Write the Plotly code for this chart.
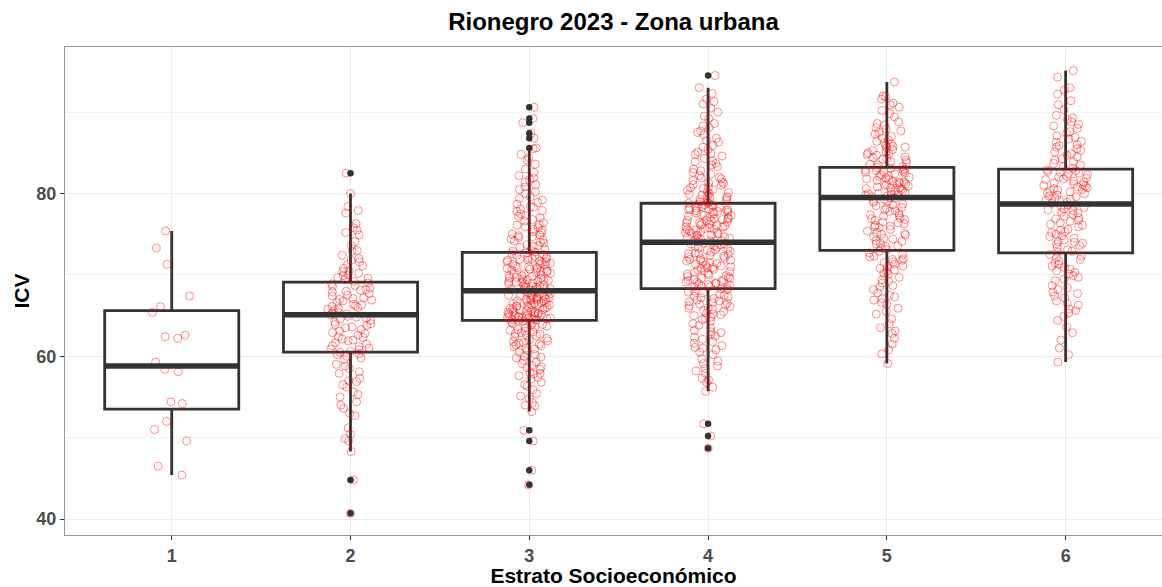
import plotly.graph_objects as go

# ---------------- data ----------------
categories = [1, 2, 3, 4, 5, 6]
tick_labels = ["1", "2", "3", "4", "5", "6"]
y_ticks = [40, 60, 80]

# box statistics
q1 = [53.5, 60.5, 64.4, 68.3, 73.0, 72.7]
median = [58.8, 65.1, 68.05, 74.0, 79.5, 78.7]
q3 = [65.6, 69.1, 72.76, 78.8, 83.2, 83.0]
lower_whisker = [45.4, 48.3, 53.2, 55.7, 59.1, 59.3]
upper_whisker = [75.4, 80.0, 85.5, 93.0, 93.7, 95.1]

icv_1 = [75.4, 73.3, 71.3, 67.4, 66.1, 65.4, 62.6, 62.4, 62.2, 59.3, 58.4, 58.1,
         54.4, 54.2, 52.0, 51.0, 49.6, 46.5, 45.4]

icv_2 = [82.5, 80.0, 78.4, 77.9, 77.6, 76.3, 75.8, 75.5, 75.2, 74.9, 74.1, 73.0,
         72.4, 72.0, 71.6, 71.1, 70.8, 70.5, 70.2, 69.9, 69.6, 69.4, 69.2, 71.3,
         70.0, 73.6, 69.7, 70.4, 72.9, 71.8,
         69.0, 66.3, 68.2, 65.4, 67.7, 66.9, 68.6, 65.8, 67.1, 66.0, 68.9, 65.2,
         67.4, 66.6, 68.0, 65.6, 67.9, 66.2, 68.4, 65.3, 67.0, 66.8, 68.7, 65.9,
         67.5, 66.4, 65.1, 67.2, 68.1, 66.1,
         64.9, 62.3, 63.8, 61.2, 64.4, 62.8, 60.9, 63.3, 61.7, 64.0, 62.1, 60.6,
         63.6, 61.5, 64.7, 62.6, 61.0, 63.1, 60.5, 64.2, 62.4, 61.9, 63.9, 60.8,
         62.9, 64.6, 61.3, 63.5, 62.0, 64.8,
         60.3, 60.0, 59.6, 59.0, 58.5, 57.9, 57.3, 56.9, 56.2, 55.6, 55.0, 54.4,
         53.6, 52.7, 51.2, 50.4, 49.6, 48.3, 44.8, 40.7, 59.8, 58.1, 57.0, 55.3,
         53.0, 60.2, 58.8, 56.5, 54.0, 49.9]

icv_3 = [85.6, 86.8, 87.4, 88.7, 89.2, 90.6,
         85.5, 84.8, 84.1, 83.6, 83.0, 82.6, 84.4, 82.2,
         81.7, 81.1, 80.8, 80.2, 79.6, 79.2, 81.4, 80.0, 81.9, 80.5, 79.4,
         78.7, 78.1, 77.8, 77.2, 76.8, 76.4, 78.4, 77.0, 76.6, 77.9, 77.5, 76.2,
         78.9, 77.3, 76.1, 78.3,
         75.8, 75.3, 74.9, 74.6, 74.2, 73.9, 73.5, 73.2, 72.9, 75.6, 75.0, 74.4,
         73.7, 73.0, 75.9, 74.7, 74.0, 73.4, 72.8, 75.2, 74.3, 73.6, 75.5, 74.8,
         72.6, 70.4, 69.1, 71.8, 68.3, 70.9, 72.2, 69.6, 68.7, 71.3, 70.1, 69.9,
         72.4, 68.2, 71.0, 69.4, 70.7, 68.9, 71.6, 69.2, 72.0, 68.5, 70.3, 71.9,
         69.7, 68.1, 70.6, 71.4, 69.0, 72.7, 68.6, 70.0, 71.2, 69.5, 68.4, 72.1,
         70.8, 69.3, 71.7, 68.8, 70.2, 71.5, 69.8, 72.5, 68.3, 70.5, 71.1, 69.1,
         68.6, 72.3, 70.9, 69.6, 71.8, 68.2, 70.4, 69.9, 71.3, 68.9, 72.0, 70.1,
         69.4, 68.5, 71.6, 70.7, 69.2,
         67.9, 66.2, 65.1, 67.4, 64.6, 66.8, 65.7, 67.1, 64.9, 66.5, 65.3, 67.7,
         64.5, 66.0, 65.9, 67.2, 64.8, 66.6, 65.4, 67.8, 65.0, 66.3, 67.5, 64.7,
         66.9, 65.6, 67.0, 64.4, 66.1, 65.2, 67.6, 64.9, 66.7, 65.8, 67.3, 64.6,
         66.4, 65.5, 68.0, 65.0, 66.2, 67.9, 64.7, 66.6, 65.3, 67.1, 64.5, 66.0,
         65.7, 67.4, 64.8, 66.8, 65.1, 67.7, 65.9, 66.5, 64.6, 67.2, 65.4, 66.3,
         67.0, 65.6, 64.9, 66.9, 65.2,
         50.9, 49.6, 46.0, 44.2,
         64.2, 63.8, 63.3, 62.9, 62.4, 62.0, 61.6, 61.2, 64.0, 63.5, 63.1, 62.6,
         62.2, 61.8, 61.3, 64.3, 63.7, 63.0, 62.7, 61.9, 61.4, 61.0, 63.9, 63.2,
         62.5, 61.7, 64.1, 62.8, 61.5, 63.6,
         60.7, 60.2, 59.8, 59.3, 58.9, 58.4, 58.0, 57.6, 57.2, 60.5, 59.9, 59.1,
         58.6, 57.9, 57.4, 60.9, 60.0, 58.7, 57.8, 59.5,
         56.8, 56.3, 55.9, 55.4, 54.8, 54.3, 53.9, 53.2, 56.5, 55.1, 54.0]

icv_4 = [94.5,
         93.0, 92.3, 91.6, 91.0, 90.5, 90.0, 89.5, 91.3, 89.2,
         88.6, 88.1, 87.7, 87.2, 86.8, 86.3, 85.9, 85.4, 88.3, 87.5, 86.5, 85.7, 85.1,
         84.8, 84.3, 83.9, 83.5, 83.0, 82.6, 82.2, 81.8, 84.6, 84.0, 83.3, 82.8,
         82.0, 81.6, 84.9, 83.7, 82.4, 81.9,
         81.4, 81.0, 80.6, 80.2, 79.9, 79.5, 79.1, 78.9, 81.2, 80.8, 80.4, 80.0,
         79.7, 79.3, 78.8, 81.3, 80.5, 79.8, 79.0, 81.1, 80.1, 79.4, 80.7, 79.6,
         78.6, 76.1, 74.5, 77.7, 75.2, 78.2, 76.8, 74.2, 77.3, 75.7, 78.0, 76.4,
         74.9, 77.9, 75.4, 78.5, 76.6, 74.1, 77.1, 75.9, 78.7, 76.3, 74.7, 77.5,
         75.0, 78.3, 76.9, 74.4, 77.2, 75.6, 78.1, 76.0, 74.8, 77.8, 75.3, 78.4,
         76.7, 74.3, 77.0, 75.8, 78.6, 76.2, 74.6, 77.6, 75.1, 78.2, 76.5, 74.0,
         77.4, 75.5, 78.8, 76.9, 74.9, 77.3, 75.2, 78.0, 76.4, 74.2, 77.7, 75.9,
         76.1, 74.5, 77.9, 75.6, 76.7,
         73.8, 71.2, 69.1, 72.6, 68.7, 70.4, 73.3, 71.8, 69.6, 72.1, 68.4, 70.9,
         73.6, 71.5, 69.3, 72.9, 68.9, 70.1, 73.1, 71.0, 69.8, 72.4, 68.5, 70.6,
         73.9, 71.7, 69.0, 72.7, 68.8, 70.3, 73.4, 71.3, 69.5, 72.2, 68.6, 70.8,
         73.7, 71.9, 69.2, 72.5, 68.3, 70.0, 73.0, 71.4, 69.7, 72.0, 69.9, 70.7,
         73.5, 71.1, 69.4, 72.8, 68.6, 70.5, 73.2, 71.6, 69.1, 72.3, 68.9, 70.2,
         73.8, 71.8, 69.6, 72.6, 70.9,
         51.7, 50.2, 48.7,
         68.2, 67.8, 67.3, 66.9, 66.4, 66.0, 65.6, 65.2, 68.0, 67.5, 67.1, 66.6,
         66.2, 65.8, 65.3, 67.9, 67.2, 66.7, 66.1, 65.5, 65.0, 67.6, 66.8, 66.3,
         65.9, 65.1, 67.4, 66.5,
         64.8, 64.3, 63.8, 63.2, 62.7, 62.1, 61.6, 61.0, 60.5, 64.5, 63.5, 62.9,
         62.3, 61.3, 60.8, 64.0, 63.0, 61.8, 60.2, 64.6, 62.5, 61.1,
         59.7, 59.1, 58.5, 57.9, 57.3, 56.8, 56.2, 55.7, 59.4, 58.2, 57.1, 58.8]

icv_5 = [93.7, 92.0, 91.6, 91.1, 90.6, 90.2, 89.8, 89.4, 91.9, 90.9,
         88.8, 88.4, 87.9, 87.5, 87.0, 86.6, 86.2, 88.1, 87.3, 86.8, 86.4, 88.6,
         87.7, 86.1,
         85.9, 85.6, 85.3, 85.0, 84.7, 84.4, 84.1, 83.8, 83.5, 83.3, 85.8, 85.4,
         85.1, 84.8, 84.5, 84.2, 83.9, 83.6, 85.7, 84.9, 84.3,
         83.1, 81.4, 79.9, 82.6, 80.7, 82.0, 79.6, 81.8, 80.3, 82.9, 81.1, 79.8,
         82.4, 80.5, 83.0, 81.6, 80.0, 82.2, 80.9, 79.7, 82.7, 81.3, 80.2, 82.5,
         81.9, 80.6, 83.2, 81.0, 79.5, 82.1, 80.8, 81.5, 80.1, 82.8, 81.2, 79.9,
         82.3, 80.4, 81.7, 80.7, 82.6, 81.4, 80.0, 82.9, 81.1,
         79.3, 76.8, 74.1, 78.2, 75.4, 77.6, 73.3, 78.9, 76.1, 74.7, 77.9, 75.0,
         79.1, 76.5, 73.8, 78.5, 75.8, 77.2, 74.4, 79.4, 76.3, 73.5, 78.0, 75.2,
         77.4, 74.9, 78.7, 76.0, 73.1, 77.0, 75.6, 79.0, 74.2, 76.7, 78.3, 75.1,
         77.8, 73.6, 76.9, 74.5, 78.6, 75.9, 77.3, 73.9, 76.4,
         72.9, 72.5, 72.2, 71.8, 71.5, 71.1, 70.8, 70.4, 70.1, 72.7, 72.0, 71.3,
         70.6, 72.3, 71.6, 70.9, 70.2, 71.9,
         69.7, 69.2, 68.7, 68.2, 67.8, 67.3, 66.9, 66.4, 65.9, 65.5, 69.4, 68.5,
         67.5, 66.6, 65.2, 69.0, 67.1,
         64.6, 64.0, 63.5, 62.8, 62.2, 61.5, 60.8, 60.3, 59.1, 63.1]

icv_6 = [95.1, 94.3, 92.7, 92.2, 91.4, 90.9, 90.3, 93.0,
         89.6, 89.1, 88.5, 88.0, 87.6, 87.1, 86.7, 89.3, 88.3, 87.4, 86.9, 88.8,
         86.3, 85.9, 85.5, 85.1, 84.7, 84.3, 83.9, 83.5, 83.1, 86.0, 85.3, 84.5,
         83.7, 86.4, 84.9, 84.1, 85.7, 83.3,
         82.9, 80.4, 79.1, 81.8, 80.0, 82.3, 79.6, 81.2, 80.7, 82.6, 79.3, 81.5,
         80.2, 82.0, 78.9, 81.0, 80.5, 82.8, 79.8, 81.7, 80.1, 82.4, 79.4, 81.3,
         80.8, 82.1, 78.8, 81.9, 80.3, 82.7, 79.7, 81.1, 80.6, 82.5, 79.2, 81.4,
         80.9,
         78.5, 75.9, 73.4, 77.6, 74.8, 76.9, 72.9, 78.1, 75.3, 74.1, 77.2, 76.4,
         73.8, 78.3, 75.6, 74.5, 77.9, 76.1, 73.1, 77.4, 75.0, 78.6, 74.3, 76.7,
         73.6, 77.0, 75.5, 78.0, 72.8, 76.2, 74.7, 77.7, 75.2, 73.9, 76.6, 78.4,
         74.0,
         72.5, 72.1, 71.7, 71.3, 70.9, 70.5, 70.1, 69.7, 69.3, 72.3, 71.5, 70.7,
         69.9, 71.9, 71.1, 70.3, 69.5,
         68.7, 68.2, 67.7, 67.2, 66.8, 66.3, 65.8, 65.3, 64.9, 64.4, 68.4, 67.4,
         66.5, 65.6, 67.9,
         63.6, 62.9, 62.0, 61.0, 60.2, 59.3]

series = [icv_1, icv_2, icv_3, icv_4, icv_5, icv_6]

# ---------------- styles ----------------
FONT = "Liberation Sans, Arial, sans-serif"
DARK = "#333333"
BOX_WIDTH = 0.75

fig = go.Figure()

# boxes (precomputed statistics)
fig.add_trace(go.Box(
    x=categories, q1=q1, median=median, q3=q3,
    lowerfence=lower_whisker, upperfence=upper_whisker,
    width=BOX_WIDTH, whiskerwidth=0, boxpoints=False,
    line=dict(color=DARK, width=2.8), fillcolor="white",
    showlegend=False, hoverinfo="skip",
))

# jittered points (library jitter)
xs, ys = [], []
for c, vals in zip(categories, series):
    xs += [c] * len(vals)
    ys += vals
fig.add_trace(go.Box(
    x=xs, y=ys, boxpoints="all", jitter=0.34, pointpos=0,
    width=BOX_WIDTH, line=dict(width=0, color="rgba(0,0,0,0)"),
    fillcolor="rgba(0,0,0,0)",
    marker=dict(symbol="circle-open", size=8, color="rgba(255,0,0,0.45)",
                line=dict(width=1, color="rgba(255,0,0,0.45)")),
    showlegend=False, hoverinfo="y",
))

# thick median bars
mx, my = [], []
for c, m in zip(categories, median):
    mx += [c - BOX_WIDTH / 2, c + BOX_WIDTH / 2, None]
    my += [m, m, None]
fig.add_trace(go.Scatter(x=mx, y=my, mode="lines",
                         line=dict(color=DARK, width=5.5),
                         showlegend=False, hoverinfo="skip"))

# outliers (values beyond the whiskers)
ox, oy = [], []
for c, vals, lo, hi in zip(categories, series, lower_whisker, upper_whisker):
    for v in vals:
        if v < lo or v > hi:
            ox.append(c)
            oy.append(v)
fig.add_trace(go.Scatter(x=ox, y=oy, mode="markers",
                         marker=dict(color=DARK, size=6.5),
                         showlegend=False, hoverinfo="y"))

fig.update_layout(
    width=1162, height=587,
    margin=dict(l=65, r=0, t=47, b=52),
    paper_bgcolor="white", plot_bgcolor="white",
    boxmode="overlay",
    font=dict(family=FONT, color="#000000"),
    title=dict(text="Rionegro 2023 - Zona urbana", xref="paper", x=0.5,
               xanchor="center", yref="container", y=1 - 22 / 587,
               yanchor="middle",
               font=dict(family=FONT, size=24, color="#000000", weight="bold")),
    xaxis=dict(
        range=[0.403, 6.539], tickvals=categories, ticktext=tick_labels,
        showgrid=True, gridcolor="#ebebeb", gridwidth=1.1,
        zeroline=False, showline=True, linecolor="#999999", linewidth=1.3,
        mirror=True, ticks="outside", ticklen=4, tickcolor=DARK, tickwidth=1,
        tickfont=dict(family=FONT, size=18, color="#4d4d4d", weight="bold"),
        title=dict(text="Estrato Socioeconómico", standoff=0,
                   font=dict(family=FONT, size=21, color="#000000", weight="bold")),
        automargin=False,
    ),
    yaxis=dict(
        range=[38.04, 98.0], tickvals=y_ticks,
        showgrid=True, gridcolor="#ebebeb", gridwidth=1.1,
        minor=dict(dtick=10, tick0=0, showgrid=True, gridcolor="#f2f2f2",
                   gridwidth=0.6, ticks=""),
        zeroline=False, showline=True, linecolor="#999999", linewidth=1.3,
        mirror=False, ticks="outside", ticklen=4, tickcolor=DARK, tickwidth=1,
        tickfont=dict(family=FONT, size=18, color="#4d4d4d", weight="bold"),
        title=dict(text="ICV", standoff=0,
                   font=dict(family=FONT, size=21, color="#000000", weight="bold")),
        automargin=False,
    ),
)

fig.write_html(
    "out.html",
    config={"displayModeBar": False},
    post_script="document.body.style.margin='0px';"
                "document.body.style.overflow='hidden';",
)
